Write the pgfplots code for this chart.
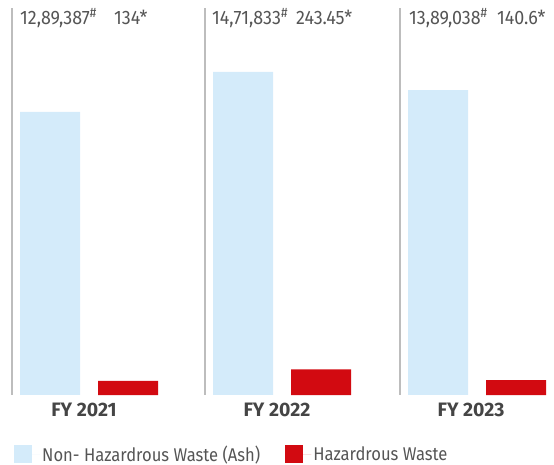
\documentclass[border=0pt]{standalone}
\usepackage{fontspec}
\setmainfont{Fira Sans}
\newfontfamily\legfont{Fira Sans}[FakeStretch=0.9]
\newfontfamily\numfont{Fira Sans}[FakeStretch=0.92]
\usepackage{pgfplots}
\pgfplotsset{compat=1.18}
\definecolor{nhw}{HTML}{D4EBFA}
\definecolor{hw}{HTML}{D20A11}
\definecolor{txt}{HTML}{555555}
\definecolor{lbl}{HTML}{454545}
\definecolor{sep}{HTML}{BDBDBD}
\begin{document}
\begin{tikzpicture}
\useasboundingbox (0bp,0bp) rectangle (554bp,465bp);
% Non-hazardous waste (Ash), tonnes
\begin{axis}[name=ash, at={(0bp,70bp)}, anchor=south west, width=554bp, height=387bp, scale only axis,
  xmin=0, xmax=554, ymin=0, ymax=1763000,
  hide axis, clip=false]
\addplot[ybar, bar width=60bp, bar shift=0pt, fill=nhw, draw=none] coordinates {(50,1289387) (243,1471833) (438,1389038)};
\draw[sep, line width=1.3bp] (axis cs:12,0) -- (axis cs:12,1763000);
\draw[sep, line width=1.3bp] (axis cs:205,0) -- (axis cs:205,1763000);
\draw[sep, line width=1.3bp] (axis cs:400,0) -- (axis cs:400,1763000);
\end{axis}
% Hazardous waste, tonnes (separate scale)
\begin{axis}[name=haz, at={(0bp,70bp)}, anchor=south west, width=554bp, height=387bp, scale only axis,
  xmin=0, xmax=554, ymin=0, ymax=3686, hide axis, clip=false,
  legend columns=2,
  legend style={at={(0.0253,-0.1525)}, anchor=west, draw=none, fill=none, inner sep=0pt,
    font=\legfont\fontsize{18.5}{20}\selectfont, text=txt,
    /tikz/every even column/.append style={column sep=23bp}},
  legend image code/.code={\fill[#1] (0bp,-9bp) rectangle (18bp,9bp); \path (0bp,0bp) -- (26bp,0bp);},
]
\addlegendimage{fill=nhw, draw=none}
\addlegendentry{Non- Hazardrous Waste (Ash)}
\addplot[ybar, bar width=60bp, bar shift=0pt, fill=hw, draw=none] coordinates {(128,134) (321,243.45) (516,140.6)};
\addlegendentry{Hazardrous Waste}
\end{axis}
\begin{scope}[every node/.style={inner sep=0pt, font=\numfont\fontsize{19.5}{21}\selectfont, text=txt}]
\node[anchor=base west] at (20bp,440bp) {12,89,387\textsuperscript{\#}};
\node[anchor=base west] at (114bp,440bp) {134*};
\node[anchor=base west] at (212bp,440bp) {14,71,833\textsuperscript{\#}};
\node[anchor=base west] at (296bp,440bp) {243.45*};
\node[anchor=base west] at (409bp,440bp) {13,89,038\textsuperscript{\#}};
\node[anchor=base west] at (497bp,440bp) {140.6*};
\end{scope}
\begin{scope}[every node/.style={inner sep=0pt, font=\fontsize{19.5}{21}\selectfont\bfseries, text=lbl, anchor=base}]
\node at (84bp,48bp) {FY 2021};
\node at (277bp,48bp) {FY 2022};
\node at (471bp,48bp) {FY 2023};
\end{scope}
\end{tikzpicture}
\end{document}
